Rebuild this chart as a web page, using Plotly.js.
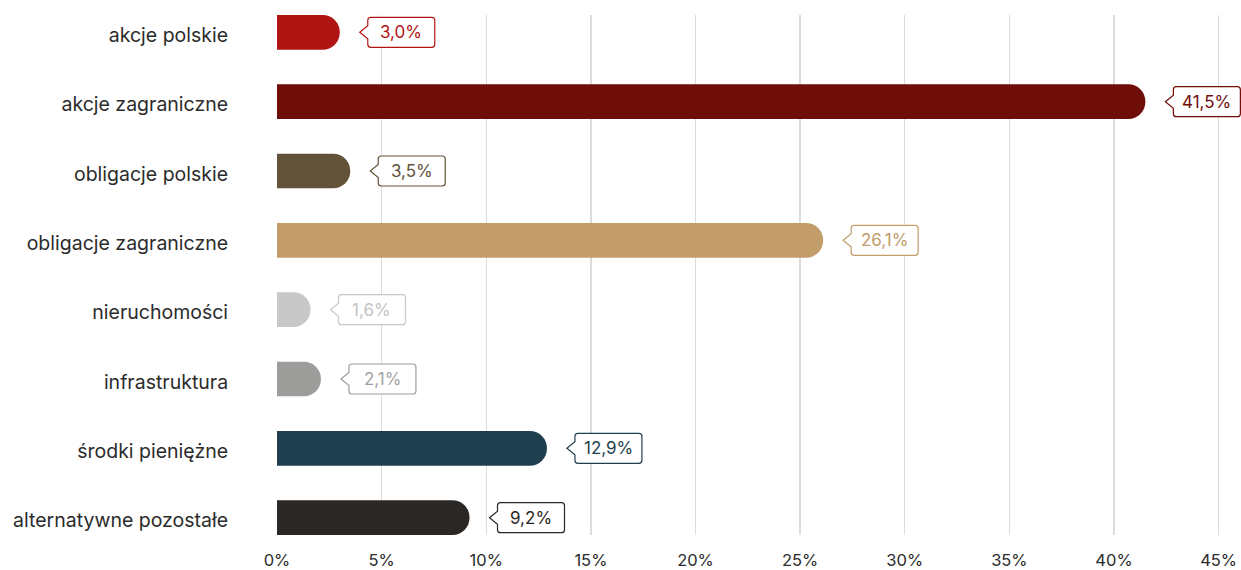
<!DOCTYPE html>
<html>
<head>
<meta charset="utf-8">
<script src="https://cdn.plot.ly/plotly-3.0.1.min.js"></script>
<style>
  html, body { margin: 0; padding: 0; background: #ffffff; }
  #chart { width: 1241px; height: 570px; }
</style>
</head>
<body>
<div id="chart"></div>
<script>
// ---- data ----
const categories = [
  "akcje polskie",
  "akcje zagraniczne",
  "obligacje polskie",
  "obligacje zagraniczne",
  "nieruchomości",
  "infrastruktura",
  "środki pieniężne",
  "alternatywne pozostałe"
];
const values = [3.0, 41.5, 3.5, 26.1, 1.6, 2.1, 12.9, 9.2];
const valueLabels = ["3,0%", "41,5%", "3,5%", "26,1%", "1,6%", "2,1%", "12,9%", "9,2%"];
const barColors = ["#b01514", "#6f0d09", "#625238", "#c29c69", "#c8c8c8", "#9d9d9c", "#1f3f4f", "#2b2724"];
const labelTextColors = ["#b01514", "#6f0d09", "#625238", "#c29c69", "#c3c3c3", "#a3a3a3", "#1f3f4f", "#2b2724"];
const xTickVals = [0, 5, 10, 15, 20, 25, 30, 35, 40, 45];
const xTickText = ["0%", "5%", "10%", "15%", "20%", "25%", "30%", "35%", "40%", "45%"];

// ---- styling ----
const FONT = "Inter, 'Noto Sans', sans-serif";
const BOX_GAP = 28;     // px from bar end to box left edge
const TIP_GAP = 20;     // px from bar end to notch tip
const BOX_W = 67;
const BOX_H = 30;
const R = 3;

function calloutPath() {
  const l = BOX_GAP, r = BOX_GAP + BOX_W, t = BOX_H / 2, n = 6.5;
  return `M ${TIP_GAP},0 L ${l},${n} L ${l},${t - R} Q ${l},${t} ${l + R},${t} ` +
         `L ${r - R},${t} Q ${r},${t} ${r},${t - R} L ${r},${-t + R} Q ${r},${-t} ${r - R},${-t} ` +
         `L ${l + R},${-t} Q ${l},${-t} ${l},${-t + R} L ${l},${-n} Z`;
}

const shapes = values.map((v, i) => ({
  type: "path",
  xref: "x", yref: "y",
  xsizemode: "pixel", ysizemode: "pixel",
  xanchor: v, yanchor: i,
  path: calloutPath(),
  fillcolor: "#ffffff",
  line: { color: barColors[i], width: 1.2 },
  layer: "above"
}));

const annotations = values.map((v, i) => ({
  x: v, y: i, xref: "x", yref: "y",
  xshift: BOX_GAP + BOX_W / 2,
  text: valueLabels[i],
  showarrow: false,
  xanchor: "center", yanchor: "middle",
  font: { family: FONT, size: 17, color: labelTextColors[i] }
}));

const trace = {
  type: "bar",
  orientation: "h",
  x: values,
  y: categories.map((c, i) => i),
  marker: { color: barColors, cornerradius: 17, line: { width: 0 } },
  hoverinfo: "skip"
};

const layout = {
  width: 1241, height: 570,
  margin: { l: 277, r: 0, t: 15, b: 35 },
  paper_bgcolor: "#ffffff",
  plot_bgcolor: "#ffffff",
  showlegend: false,
  bargap: 0.5,
  font: { family: FONT, color: "#2b2b2b" },
  xaxis: {
    range: [0, 46.07],
    tickvals: xTickVals,
    ticktext: xTickText,
    showgrid: true,
    gridcolor: "#dcdcdc",
    gridwidth: 1.5,
    zeroline: false,
    showline: false,
    ticks: "outside",
    ticklen: 10,
    tickcolor: "rgba(0,0,0,0)",
    tickfont: { family: FONT, size: 16.5, color: "#2b2b2b" },
    fixedrange: true
  },
  yaxis: {
    range: [7.25, -0.25],
    tickvals: categories.map((c, i) => i),
    ticktext: categories,
    showgrid: false,
    zeroline: false,
    showline: false,
    ticks: "outside",
    ticklen: 44,
    tickcolor: "rgba(0,0,0,0)",
    ticklabelshift: -3,
    tickfont: { family: FONT, size: 19.5, color: "#2b2b2b" },
    fixedrange: true
  },
  shapes: shapes,
  annotations: annotations
};

Plotly.newPlot("chart", [trace], layout, { displayModeBar: false, staticPlot: true });
</script>
</body>
</html>
